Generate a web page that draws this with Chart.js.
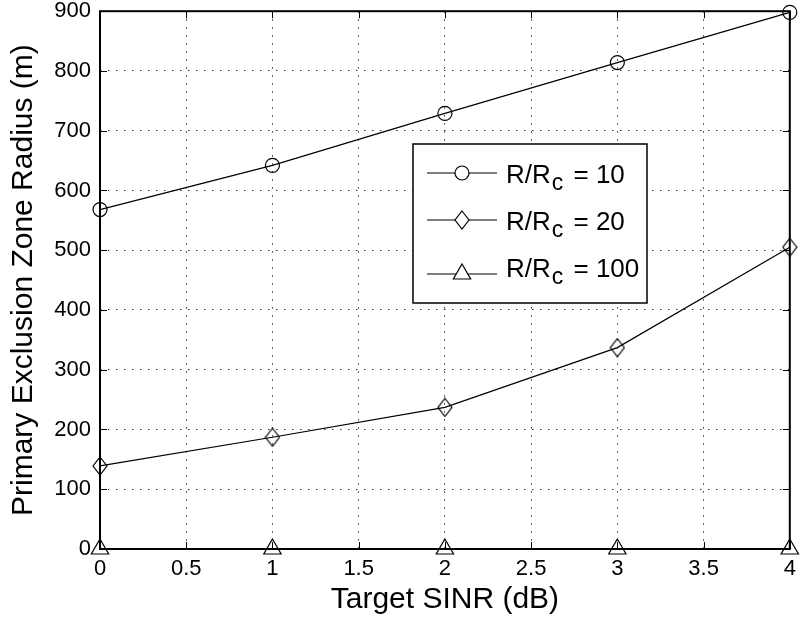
<!DOCTYPE html>
<html><head><meta charset="utf-8">
<script src="https://cdn.jsdelivr.net/npm/chart.js@4/dist/chart.umd.min.js"></script>
<style>html,body{margin:0;padding:0;background:#fff;}#wrap{width:801px;height:625px;position:relative;}</style>
</head><body><div id="wrap"><canvas id="c" width="801" height="625"></canvas></div>
<script>
// ---- data ----
const sinrDb = [0, 1, 2, 3, 4];
const radiusRc10 = [568, 642, 729, 814, 898];
const radiusRc20 = [139, 187, 237, 337, 505];
const radiusRc100 = [0, 0, 0, 0, 0];
const seriesLabels = ['R/Rc = 10', 'R/Rc = 20', 'R/Rc = 100'];
const xTickValues = [0, 0.5, 1, 1.5, 2, 2.5, 3, 3.5, 4];
const yTickValues = [0, 100, 200, 300, 400, 500, 600, 700, 800, 900];
const xTitle = 'Target SINR (dB)';
const yTitle = 'Primary Exclusion Zone Radius (m)';

const FONT = "'Liberation Sans', Arial, Helvetica, sans-serif";

function makeDiamond() {
  const c = document.createElement('canvas');
  c.width = 16; c.height = 20;
  const g = c.getContext('2d');
  g.strokeStyle = '#000'; g.lineWidth = 1.2;
  g.beginPath();
  g.moveTo(8, 1); g.lineTo(15, 10); g.lineTo(8, 19); g.lineTo(1, 10); g.closePath();
  g.stroke();
  return c;
}
const diamond = makeDiamond();

function pts(ys) { return sinrDb.map((x, i) => ({ x: x, y: ys[i] })); }

const markerStyles = ['circle', diamond, 'triangle'];
const markerRadii = [7, 9, 10];

const frameAndTicks = {
  id: 'frameAndTicks',
  beforeDatasetsDraw(chart) {
    const { ctx, chartArea: a, scales } = chart;
    ctx.save();
    ctx.strokeStyle = '#000';
    ctx.lineWidth = 1;
    const tl = 7;
    ctx.beginPath();
    xTickValues.forEach(v => {
      const px = Math.round(scales.x.getPixelForValue(v)) + 0.5;
      ctx.moveTo(px, a.bottom); ctx.lineTo(px, a.bottom - tl);
      ctx.moveTo(px, a.top); ctx.lineTo(px, a.top + tl);
    });
    yTickValues.forEach(v => {
      const py = Math.round(scales.y.getPixelForValue(v)) + 0.5;
      ctx.moveTo(a.left, py); ctx.lineTo(a.left + tl, py);
      ctx.moveTo(a.right, py); ctx.lineTo(a.right - tl, py);
    });
    ctx.stroke();
    ctx.lineWidth = 2;
    ctx.strokeRect(a.left, a.top, a.right - a.left, a.bottom - a.top);
    ctx.restore();
  }
};

const boxLegend = {
  id: 'boxLegend',
  afterDatasetsDraw(chart) {
    const ctx = chart.ctx;
    const bx = 413, by = 144, bw = 234, bh = 159;
    const rowY = [173, 220, 274];
    const textBase = [183, 230, 277];
    ctx.save();
    ctx.fillStyle = '#fff';
    ctx.fillRect(bx, by, bw, bh);
    ctx.strokeStyle = '#000';
    ctx.lineWidth = 1.5;
    ctx.strokeRect(bx, by, bw, bh);
    chart.data.datasets.forEach((ds, i) => {
      const y = rowY[i];
      ctx.lineWidth = 1.2;
      ctx.beginPath(); ctx.moveTo(427, y); ctx.lineTo(497, y); ctx.stroke();
      const mx = 462;
      ctx.fillStyle = '#fff';
      if (i === 0) {
        ctx.beginPath(); ctx.arc(mx, y, 7, 0, Math.PI * 2); ctx.fill(); ctx.stroke();
      } else if (i === 1) {
        ctx.beginPath(); ctx.moveTo(mx, y - 9); ctx.lineTo(mx + 7, y); ctx.lineTo(mx, y + 9); ctx.lineTo(mx - 7, y); ctx.closePath(); ctx.fill(); ctx.stroke();
      } else {
        const r = 10, h = r * Math.sqrt(3) / 2;
        ctx.beginPath(); ctx.moveTo(mx, y - r); ctx.lineTo(mx + h, y + r / 2); ctx.lineTo(mx - h, y + r / 2); ctx.closePath(); ctx.fill(); ctx.stroke();
      }
      const label = ds.label;            // e.g. 'R/Rc = 10'
      const main = label.slice(0, 3);    // 'R/R'
      const sub = label.slice(3, 4);     // 'c' (subscript)
      const rest = label.slice(4);       // ' = 10'
      ctx.fillStyle = '#000';
      ctx.textBaseline = 'alphabetic';
      ctx.textAlign = 'left';
      let x = 506;
      ctx.font = '26px ' + FONT;
      ctx.fillText(main, x, textBase[i]);
      x += ctx.measureText(main).width + 1;
      ctx.font = '23px ' + FONT;
      ctx.fillText(sub, x, textBase[i] + 7);
      x += ctx.measureText(sub).width + 3;
      ctx.font = '26px ' + FONT;
      ctx.fillText(rest, x, textBase[i]);
    });
    ctx.restore();
  }
};

const datasets = [radiusRc10, radiusRc20, radiusRc100].map((ys, i) => ({
  label: seriesLabels[i],
  data: pts(ys),
  borderColor: '#000',
  borderWidth: 1.2,
  backgroundColor: 'rgba(0,0,0,0)',
  pointStyle: markerStyles[i],
  pointRadius: markerRadii[i],
  pointBorderColor: '#000',
  pointBackgroundColor: 'rgba(0,0,0,0)',
  pointBorderWidth: 1.2,
  tension: 0,
  clip: false
}));

new Chart(document.getElementById('c'), {
  type: 'line',
  data: { datasets },
  options: {
    responsive: false,
    animation: false,
    devicePixelRatio: 1,
    events: [],
    layout: { padding: { top: 11, right: 10, left: 0, bottom: 0 } },
    plugins: { legend: { display: false }, tooltip: { enabled: false } },
    scales: {
      x: {
        type: 'linear', min: 0, max: 4,
        afterBuildTicks: s => { s.ticks = xTickValues.map(v => ({ value: v })); },
        afterFit: s => { s.height = 76; s.paddingLeft = 0; s.paddingRight = 0; },
        ticks: { color: '#000', font: { family: FONT, size: 22 }, padding: 7, maxRotation: 0, autoSkip: false, callback: v => String(v) },
        grid: { color: '#333', lineWidth: 1, drawTicks: false },
        border: { display: false, dash: [1.5, 6.5] },
        title: { display: true, text: xTitle, color: '#000', font: { family: FONT, size: 30 }, padding: { top: 0, bottom: 7 } }
      },
      y: {
        type: 'linear', min: 0, max: 900,
        afterBuildTicks: s => { s.ticks = yTickValues.map(v => ({ value: v })); },
        afterFit: s => { s.width = 100; s.paddingTop = 0; s.paddingBottom = 0; },
        ticks: { color: '#000', font: { family: FONT, size: 22 }, padding: 9, autoSkip: false, callback: v => String(v) },
        grid: { color: '#333', lineWidth: 1, drawTicks: false },
        border: { display: false, dash: [1.5, 6.5] },
        title: { display: true, text: yTitle, color: '#000', font: { family: FONT, size: 30 }, padding: { top: 6, bottom: 0 } }
      }
    }
  },
  plugins: [frameAndTicks, boxLegend]
});
</script></body></html>
